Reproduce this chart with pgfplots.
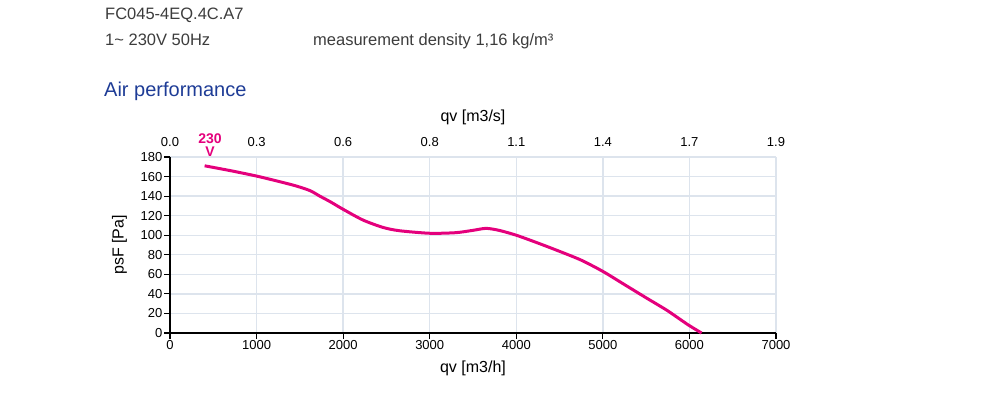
\documentclass[border=0pt]{standalone}
\usepackage{pgfplots}
\pgfplotsset{compat=1.18}
\usepackage{fontspec}
\setmainfont{Liberation Sans}
\definecolor{curve}{RGB}{228,0,124}
\definecolor{gridc}{RGB}{221,228,237}
\definecolor{hdr}{RGB}{60,60,60}
\definecolor{ttl}{RGB}{30,60,150}
\begin{document}
\begin{tikzpicture}[x=1pt,y=1pt]
\path[use as bounding box] (0,0) rectangle (1000,394);
\node[anchor=base west, text=hdr, font=\fontsize{16.5}{18}\selectfont, inner sep=0] at (105,374.7) {FC045-4EQ.4C.A7};
\node[anchor=base west, text=hdr, font=\fontsize{16.5}{18}\selectfont, inner sep=0] at (105,348) {1\textasciitilde{} 230V 50Hz};
\node[anchor=base west, text=hdr, font=\fontsize{16.5}{18}\selectfont, inner sep=0] at (313,348) {measurement density 1,16 kg/m³};
\node[anchor=base west, text=ttl, font=\fontsize{20}{22}\selectfont, inner sep=0] at (104,297.3) {Air performance};
\begin{axis}[
  at={(170pt,61pt)}, anchor=south west, scale only axis,
  width=606pt, height=176pt,
  xmin=0, xmax=7000, ymin=0, ymax=180,
  axis x line*=bottom, axis y line*=left,
  axis line style={black, line width=1.3pt},
  tick align=outside, major tick length=6pt,
  tick style={black, line width=1.1pt},
  xtick={0,1000,2000,3000,4000,5000,6000,7000},
  xticklabels={0,1000,2000,3000,4000,5000,6000,7000},
  ytick={0,20,...,180},
  yticklabels={0,20,40,60,80,100,120,140,160,180},
  grid=major, major grid style={gridc, line width=1.3pt},
  tick label style={font=\fontsize{13}{15}\selectfont, text=black},
  xticklabel style={inner sep=1pt},
  yticklabel style={inner sep=1.5pt},
  xlabel={qv [m3/h]}, ylabel={psF [Pa]},
  label style={font=\fontsize{16}{18}\selectfont, text=black},
  xlabel style={at={(axis description cs:0.5,-0.199)}, anchor=center},
  ylabel style={at={(axis description cs:-0.0833,0.5)}, anchor=center, rotate=0},
  clip=false,
]
\addplot[curve, line width=3pt, smooth, tension=0.45] coordinates {
(400,171) (700,166) (1000,160.5) (1270,154.7) (1460,150.3) (1620,145.5)
(1730,140) (1850,134.3) (2000,126.5) (2230,115.5) (2460,108) (2650,104.6)
(3000,102) (3300,102.6) (3500,105) (3650,107) (3800,105) (4000,100)
(4250,92) (4500,83.5) (4750,74.5) (5000,63) (5250,49.5) (5500,36)
(5735,23.5) (5900,13.5) (6000,7.5) (6140,0)
};
\end{axis}
\begin{axis}[
  at={(170pt,61pt)}, anchor=south west, scale only axis,
  width=606pt, height=176pt,
  xmin=0, xmax=7000, ymin=0, ymax=180,
  axis x line*=top, hide y axis,
  x axis line style={draw=none},
  major tick length=0pt, tick style={draw=none},
  xtick={0,1000,2000,3000,4000,5000,6000,7000},
  xticklabels={0.0,0.3,0.6,0.8,1.1,1.4,1.7,1.9},
  tick label style={font=\fontsize{13}{15}\selectfont, text=black},
  xticklabel style={anchor=south, inner sep=0pt, yshift=10pt},
  xlabel={qv [m3/s]},
  label style={font=\fontsize{16}{18}\selectfont, text=black},
  xlabel style={at={(axis description cs:0.5,1.227)}, anchor=center},
]
\end{axis}
\node[anchor=base, text=curve, font=\bfseries\fontsize{14}{16}\selectfont, inner sep=0] at (210,250) {230};
\node[anchor=base, text=curve, font=\bfseries\fontsize{14}{16}\selectfont, inner sep=0] at (210,237.7) {V};
\end{tikzpicture}
\end{document}
